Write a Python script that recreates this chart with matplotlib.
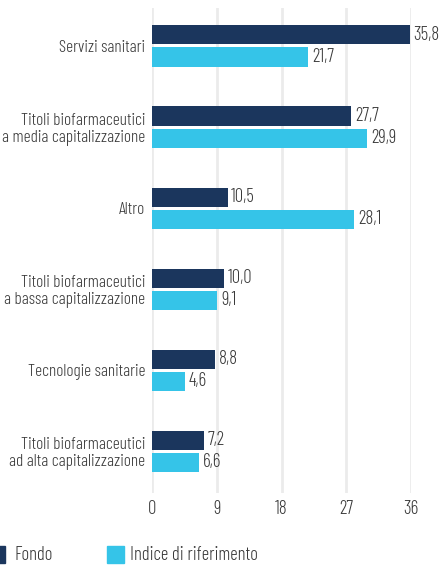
import matplotlib
matplotlib.use("Agg")
import matplotlib.pyplot as plt
from matplotlib.patches import Rectangle
import numpy as np

# data
categories = [
    "Servizi sanitari",
    "Titoli biofarmaceutici\na media capitalizzazione",
    "Altro",
    "Titoli biofarmaceutici\na bassa capitalizzazione",
    "Tecnologie sanitarie",
    "Titoli biofarmaceutici\nad alta capitalizzazione",
]
fondo = [35.8, 27.7, 10.5, 10.0, 8.8, 7.2]
indice = [21.7, 29.9, 28.1, 9.1, 4.6, 6.6]
series_names = ["Fondo", "Indice di riferimento"]
xticks = [0, 9, 18, 27, 36]

col_fondo = "#1b365d"
col_indice = "#35c4e8"
text_col = "#3a3a3a"
fs = 13.5      # values, x ticks, legend
fs_cat = 12.5  # category labels

plt.rcParams["font.family"] = ["Barlow Condensed", "DejaVu Sans"]
plt.rcParams["font.weight"] = 300

fig = plt.figure(figsize=(4.43, 5.65), dpi=100)
ax = fig.add_axes([0.343, 0.127, 0.585, 0.859])

y = np.arange(len(categories))
h = 0.235
off = 0.136
ax.barh(y - off, fondo, height=h, color=col_fondo, zorder=3)
ax.barh(y + off, indice, height=h, color=col_indice, zorder=3)

# value labels, italian decimal comma
for yi, v in zip(y - off, fondo):
    ax.text(v + 0.5, yi, f"{v:.1f}".replace(".", ","), va="center", ha="left",
            fontsize=fs, color=text_col, clip_on=False)
for yi, v in zip(y + off, indice):
    ax.text(v + 0.5, yi, f"{v:.1f}".replace(".", ","), va="center", ha="left",
            fontsize=fs, color=text_col, clip_on=False)

ax.set_xlim(0, 36)
ax.set_ylim(5.52, -0.47)
ax.set_yticks(y)
ax.set_yticklabels(categories, fontsize=fs_cat, color=text_col, linespacing=1.05)
ax.set_xticks(xticks)
ax.set_xticklabels([str(t) for t in xticks], fontsize=fs, color=text_col)
ax.tick_params(axis="both", length=0)
ax.tick_params(axis="y", pad=5)
ax.tick_params(axis="x", pad=5)
for t in ax.get_yticklabels():
    t.set_multialignment("right")

ax.grid(axis="x", color="#ebebeb", linewidth=2, zorder=0)
for s in ax.spines.values():
    s.set_visible(False)

# legend
fig.patches.append(Rectangle((-0.027, 0.004), 0.038, 0.029, transform=fig.transFigure,
                             color=col_fondo))
fig.text(0.032, 0.018, series_names[0], fontsize=fs, color=text_col, va="center")
fig.patches.append(Rectangle((0.242, 0.004), 0.038, 0.029, transform=fig.transFigure,
                             color=col_indice))
fig.text(0.294, 0.018, series_names[1], fontsize=fs, color=text_col, va="center")

fig.savefig("out.png", dpi=100)
